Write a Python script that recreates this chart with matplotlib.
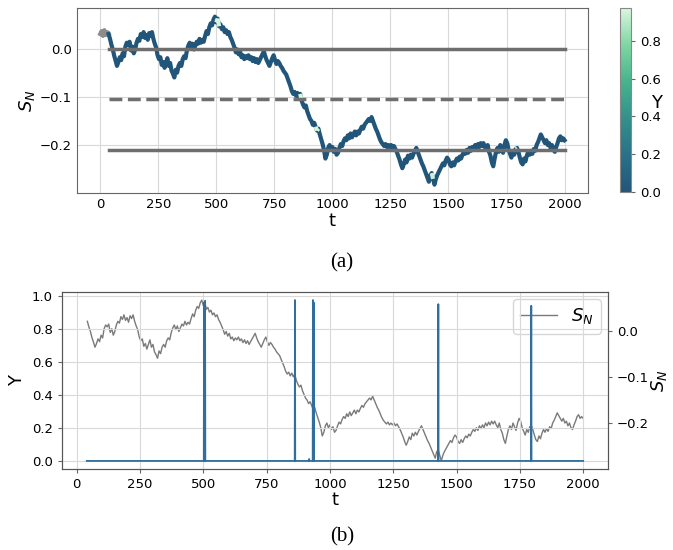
import numpy as np
import matplotlib
matplotlib.use("Agg")
import matplotlib.pyplot as plt
from matplotlib.collections import LineCollection
from matplotlib.colors import LinearSegmentedColormap, Normalize

s_walk = [
    0.030, 0.036, 0.026, 0.038, 0.028, 0.034, 0.030, 0.020, 0.008, -0.002,
    -0.015, -0.025, -0.036, -0.028, -0.018, -0.024, -0.010, -0.016, 0.004, 0.012,
    0.008, 0.014, -0.004, 0.004, -0.010, -0.002, 0.012, 0.020, 0.016, 0.030,
    0.024, 0.034, 0.022, 0.028, 0.018, 0.032, 0.026, 0.034, 0.020, 0.010,
    0.002, -0.014, -0.022, -0.018, -0.034, -0.028, -0.040, -0.030, -0.020, -0.036,
    -0.030, -0.046, -0.052, -0.060, -0.044, -0.050, -0.036, -0.030, -0.036, -0.022,
    -0.016, -0.020, -0.004, 0.006, 0.012, 0.002, 0.010, -0.002, 0.006, 0.014,
    0.010, 0.020, 0.012, 0.018, 0.014, 0.026, 0.036, 0.030, 0.044, 0.052,
    0.048, 0.060, 0.066, 0.054, 0.062, 0.046, 0.050, 0.040, 0.044, 0.034,
    0.038, 0.030, 0.034, 0.024, 0.018, 0.010, 0.002, -0.008, -0.002, -0.012,
    -0.006, -0.018, -0.014, -0.022, -0.016, -0.020, -0.014, -0.022, -0.018, -0.026,
    -0.020, -0.028, -0.022, -0.030, -0.024, -0.018, -0.012, -0.006, -0.016, -0.024,
    -0.030, -0.036, -0.028, -0.020, -0.014, -0.024, -0.032, -0.026, -0.030, -0.036,
    -0.040, -0.046, -0.050, -0.054, -0.062, -0.070, -0.078, -0.088, -0.094, -0.090,
    -0.098, -0.092, -0.100, -0.094, -0.108, -0.116, -0.122, -0.118, -0.130, -0.138,
    -0.146, -0.150, -0.158, -0.154, -0.162, -0.170, -0.166, -0.178, -0.188, -0.198,
    -0.210, -0.228, -0.220, -0.206, -0.200, -0.210, -0.204, -0.214, -0.208, -0.220,
    -0.216, -0.206, -0.198, -0.202, -0.192, -0.186, -0.190, -0.180, -0.186, -0.176,
    -0.184, -0.178, -0.172, -0.180, -0.172, -0.176, -0.168, -0.162, -0.166, -0.158,
    -0.154, -0.150, -0.146, -0.150, -0.142, -0.150, -0.158, -0.166, -0.172, -0.180,
    -0.188, -0.194, -0.198, -0.202, -0.198, -0.204, -0.200, -0.204, -0.200, -0.206,
    -0.202, -0.208, -0.214, -0.222, -0.230, -0.240, -0.248, -0.240, -0.230, -0.236,
    -0.222, -0.228, -0.220, -0.226, -0.218, -0.212, -0.206, -0.214, -0.222, -0.230,
    -0.238, -0.244, -0.252, -0.260, -0.268, -0.276, -0.262, -0.258, -0.270, -0.282,
    -0.270, -0.262, -0.256, -0.250, -0.244, -0.238, -0.242, -0.232, -0.226, -0.230,
    -0.240, -0.244, -0.236, -0.242, -0.234, -0.228, -0.232, -0.224, -0.228, -0.220,
    -0.214, -0.218, -0.210, -0.216, -0.206, -0.212, -0.204, -0.210, -0.200, -0.206,
    -0.198, -0.204, -0.196, -0.202, -0.196, -0.204, -0.210, -0.200, -0.214, -0.222,
    -0.236, -0.244, -0.228, -0.214, -0.206, -0.214, -0.200, -0.208, -0.216, -0.200,
    -0.190, -0.196, -0.210, -0.218, -0.226, -0.214, -0.220, -0.208, -0.206, -0.214,
    -0.226, -0.236, -0.240, -0.228, -0.234, -0.222, -0.214, -0.220, -0.212, -0.218,
    -0.208, -0.212, -0.200, -0.194, -0.186, -0.178, -0.184, -0.190, -0.196, -0.190,
    -0.200, -0.196, -0.206, -0.200, -0.210, -0.214, -0.204, -0.196, -0.186, -0.182,
    -0.190, -0.186, -0.190,
]
t_walk = np.linspace(0, 2000, len(s_walk))

# Y: zero except short spikes
y_start, y_end = 40, 2000
spike_t = [503, 507, 862, 918, 933, 936, 1428, 1795]
spike_y = [0.96, 0.97, 0.975, 0.012, 0.975, 0.96, 0.95, 0.94]

# reference levels drawn in panel (a)
hline_levels = [0.0, -0.105, -0.21]
hline_styles = ["-", "--", "-"]

t_y = np.arange(y_start, y_end + 1)
y_vals = np.zeros(len(t_y))
for ts, ys in zip(spike_t, spike_y):
    y_vals[ts - y_start] = ys

cmap = LinearSegmentedColormap.from_list(
    "ycmap", ["#22557a", "#2a7188", "#33908c", "#47b38c", "#7fd6a2", "#d9f6df"])
norm = Normalize(vmin=0, vmax=max(spike_y))

plt.rcParams["font.family"] = "DejaVu Sans"
fig = plt.figure(figsize=(6.73, 5.5), dpi=100)

# ---------- panel (a) ----------
ax1 = fig.add_axes([0.1144, 0.649, 0.759, 0.336])
ax1.grid(True, color="#d9d9d9", lw=0.8)
ax1.set_axisbelow(True)

s_arr = np.asarray(s_walk)
pre = t_walk <= y_start
ax1.plot(t_walk[pre], s_arr[pre], color="#8c8c8c", lw=3)

# walk coloured by Y: base colour for Y = 0, segments with a spike on top
idx = np.where(t_walk >= y_start - 6)[0]
ax1.plot(t_walk[idx], s_arr[idx], color=cmap(0.0), lw=3, solid_joinstyle="round")
pts = np.column_stack([t_walk[idx], s_arr[idx]])
segs = np.stack([pts[:-1], pts[1:]], axis=1)
seg_c = []
for a, b in zip(t_walk[idx][:-1], t_walk[idx][1:]):
    m = (t_y >= a) & (t_y <= b)
    seg_c.append(y_vals[m].max() if m.any() else 0.0)
seg_c = np.array(seg_c)
hot = seg_c > 0.05
lc = LineCollection(segs[hot], cmap=cmap, norm=norm, linewidths=3)
lc.set_array(seg_c[hot])
ax1.add_collection(lc)

for lev, ls in zip(hline_levels, hline_styles):
    ax1.plot([y_start, y_end], [lev, lev], color="#6e6e6e", lw=2.5, ls=ls)

ax1.set_xticks([0, 250, 500, 750, 1000, 1250, 1500, 1750, 2000])
ax1.set_yticks([0.0, -0.1, -0.2])
ax1.tick_params(labelsize=9.5, length=0)
ax1.set_xlabel("t", fontsize=13, labelpad=1)
ax1.set_ylabel(r"$S_N$", fontsize=13, labelpad=2)
for sp in ax1.spines.values():
    sp.set_color("#666666")

cax = fig.add_axes([0.9212, 0.651, 0.0163, 0.3345])
sm = plt.cm.ScalarMappable(cmap=cmap, norm=norm)
cb = fig.colorbar(sm, cax=cax)
cb.set_ticks([0.0, 0.2, 0.4, 0.6, 0.8])
cb.ax.tick_params(labelsize=9.5, length=3, color="#666666")
cb.outline.set_edgecolor("#888888")
# colourbar title, sitting just above the 0.4 tick as in the original
fig.text(0.975, 0.813, "Y", fontsize=13, ha="center", va="center")

fig.text(0.508, 0.522, "(a)", fontsize=15, family="Liberation Serif",
         ha="center", va="center")

# ---------- panel (b) ----------
ax2 = fig.add_axes([0.0921, 0.1473, 0.8113, 0.3218])
ax2.grid(True, color="#d9d9d9", lw=0.8)
ax2.set_axisbelow(True)
ax2.plot(t_y, y_vals, color="#2f6e9e", lw=1.3)
ax2.set_yticks([0.0, 0.2, 0.4, 0.6, 0.8, 1.0])
ax2.set_xticks([0, 250, 500, 750, 1000, 1250, 1500, 1750, 2000])
ax2.tick_params(labelsize=9.5, length=3, color="#666666")
ax2.set_xlabel("t", fontsize=13, labelpad=0)
ax2.set_ylabel("Y", fontsize=13, labelpad=4)

ax3 = ax2.twinx()
post = t_walk >= y_start
ax3.plot(t_walk[post], s_arr[post], color="#7a7a7a", lw=1.0, label=r"$S_N$")
ax3.set_yticks([0.0, -0.1, -0.2])
ax3.tick_params(labelsize=9.5, length=3, color="#666666")
ax3.set_ylabel(r"$S_N$", fontsize=13, labelpad=0)
ax3.legend(loc="upper right", fontsize=13, handlelength=2.0,
           borderaxespad=0.4, framealpha=0.8)
ax2.set_zorder(ax3.get_zorder() + 1)
ax2.patch.set_visible(False)
for ax in (ax2, ax3):
    for sp in ax.spines.values():
        sp.set_color("#555555")

fig.text(0.508, 0.024, "(b)", fontsize=15, family="Liberation Serif",
         ha="center", va="center")

fig.savefig("out.png", dpi=100)
